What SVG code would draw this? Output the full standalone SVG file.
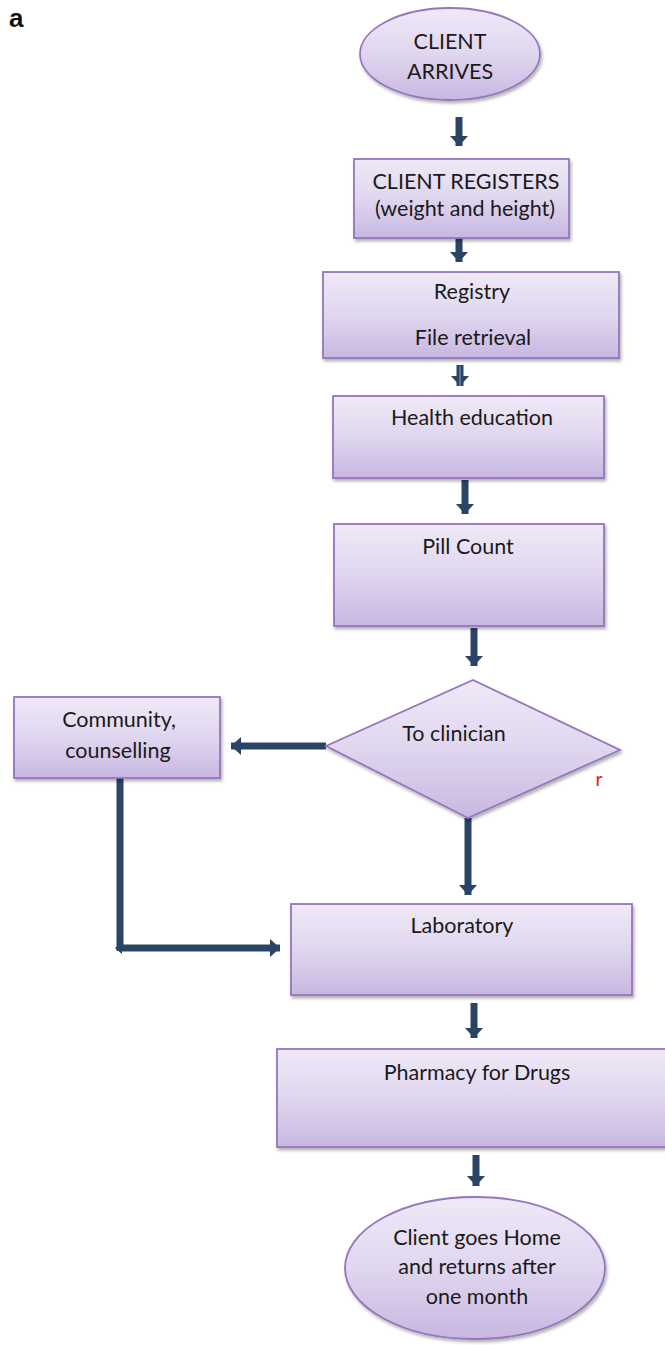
<svg xmlns="http://www.w3.org/2000/svg" width="665" height="1345" viewBox="0 0 665 1345">
<defs>
<linearGradient id="g" x1="0" y1="0" x2="0" y2="1">
<stop offset="0" stop-color="#efe9f7"/>
<stop offset="0.5" stop-color="#e0d6ef"/>
<stop offset="1" stop-color="#c8b7e1"/>
</linearGradient>
<filter id="sh" x="-10%" y="-10%" width="125%" height="130%">
<feDropShadow dx="1.5" dy="2.5" stdDeviation="1.5" flood-color="#000" flood-opacity="0.3"/>
</filter>
<marker id="ah" markerUnits="userSpaceOnUse" markerWidth="20" markerHeight="20" refX="10" refY="9" orient="auto">
<path d="M0,0 L10,9 L0,18 Z" fill="#2a4466"/>
</marker>
<marker id="ahs" markerUnits="userSpaceOnUse" markerWidth="14" markerHeight="14" refX="3" refY="6" orient="auto-start-reverse">
<path d="M0,0 L7,6 L0,12 Z" fill="#2a4466"/>
</marker>
</defs>
<style>
.n{fill:url(#g);stroke:#9576bd;stroke-width:1.8;filter:url(#sh)}
.t{font-family:Lato,"Open Sans",sans-serif;font-size:21.5px;fill:#1a1a1a;text-anchor:middle}
.c{stroke:#2a4466;stroke-width:7;fill:none}
</style>
<rect width="665" height="1345" fill="#fff"/>
<text x="9" y="27" font-family="Liberation Sans,Arial,sans-serif" font-weight="bold" font-size="26" fill="#111">a</text>

<g id="connectors">
<line class="c" x1="459" y1="117" x2="459" y2="146" marker-end="url(#ah)"/>
<line class="c" x1="459" y1="238" x2="459" y2="262" marker-end="url(#ah)"/>
<line class="c" x1="460" y1="365" x2="460" y2="386" marker-end="url(#ah)"/>
<line x1="460" y1="366" x2="460" y2="386" stroke="#6d86a6" stroke-width="1.5"/>
<line class="c" x1="465" y1="480" x2="465" y2="514" marker-end="url(#ah)"/>
<line class="c" x1="474" y1="628" x2="474" y2="666" marker-end="url(#ah)"/>
<line class="c" x1="326" y1="746" x2="231" y2="746" marker-end="url(#ah)"/>
<line class="c" x1="468" y1="818" x2="468" y2="895" marker-end="url(#ah)"/>
<line class="c" x1="120" y1="778" x2="120" y2="951"/>
<line class="c" x1="119" y1="948" x2="280" y2="948" marker-start="url(#ahs)" marker-end="url(#ah)"/>
<line class="c" x1="474" y1="1003" x2="474" y2="1038" marker-end="url(#ah)"/>
<line class="c" x1="476" y1="1155" x2="476" y2="1186" marker-end="url(#ah)"/>
</g>

<g id="client-arrives">
<ellipse class="n" cx="450" cy="54" rx="90" ry="46"/>
<text class="t" x="450" y="49" font-size="20">CLIENT</text>
<text class="t" x="450" y="79" font-size="20">ARRIVES</text>
</g>

<g id="client-registers">
<rect class="n" x="354" y="159" width="215" height="79"/>
<text class="t" x="466" y="189" font-size="20">CLIENT REGISTERS</text>
<text class="t" x="465" y="216" font-size="21">(weight and height)</text>
</g>

<g id="registry">
<rect class="n" x="323" y="272" width="296" height="86"/>
<text class="t" x="472" y="299" font-size="16">Registry</text>
<text class="t" x="473" y="345" font-size="20">File retrieval</text>
</g>

<g id="health-education">
<rect class="n" x="333" y="396" width="271" height="82"/>
<text class="t" x="472" y="425">Health education</text>
</g>

<g id="pill-count">
<rect class="n" x="334" y="524" width="270" height="102"/>
<text class="t" x="468" y="554">Pill Count</text>
</g>

<g id="to-clinician">
<path class="n" d="M473,680 L620,750 L468,818 L326,746 Z"/>
<text class="t" x="454" y="741" font-size="22.5">To clinician</text>
<text x="599" y="786" font-family="Lato,sans-serif" font-size="19" fill="#e02020" text-anchor="middle">r</text>
</g>

<g id="community">
<rect class="n" x="14" y="697" width="206" height="81"/>
<text class="t" x="119" y="727" font-size="22.5">Community,</text>
<text class="t" x="118" y="758" font-size="22.5">counselling</text>
</g>

<g id="laboratory">
<rect class="n" x="291" y="904" width="341" height="91"/>
<text class="t" x="462" y="933" font-size="22.5">Laboratory</text>
</g>

<g id="pharmacy">
<rect class="n" x="277" y="1049" width="392" height="98"/>
<text class="t" x="477" y="1080" font-size="22">Pharmacy for Drugs</text>
</g>

<g id="client-home">
<ellipse class="n" cx="475" cy="1268" rx="130" ry="71"/>
<text class="t" x="477" y="1245" font-size="22">Client goes Home</text>
<text class="t" x="477" y="1274" font-size="22">and returns after</text>
<text class="t" x="477" y="1304" font-size="22">one month</text>
</g>
</svg>
